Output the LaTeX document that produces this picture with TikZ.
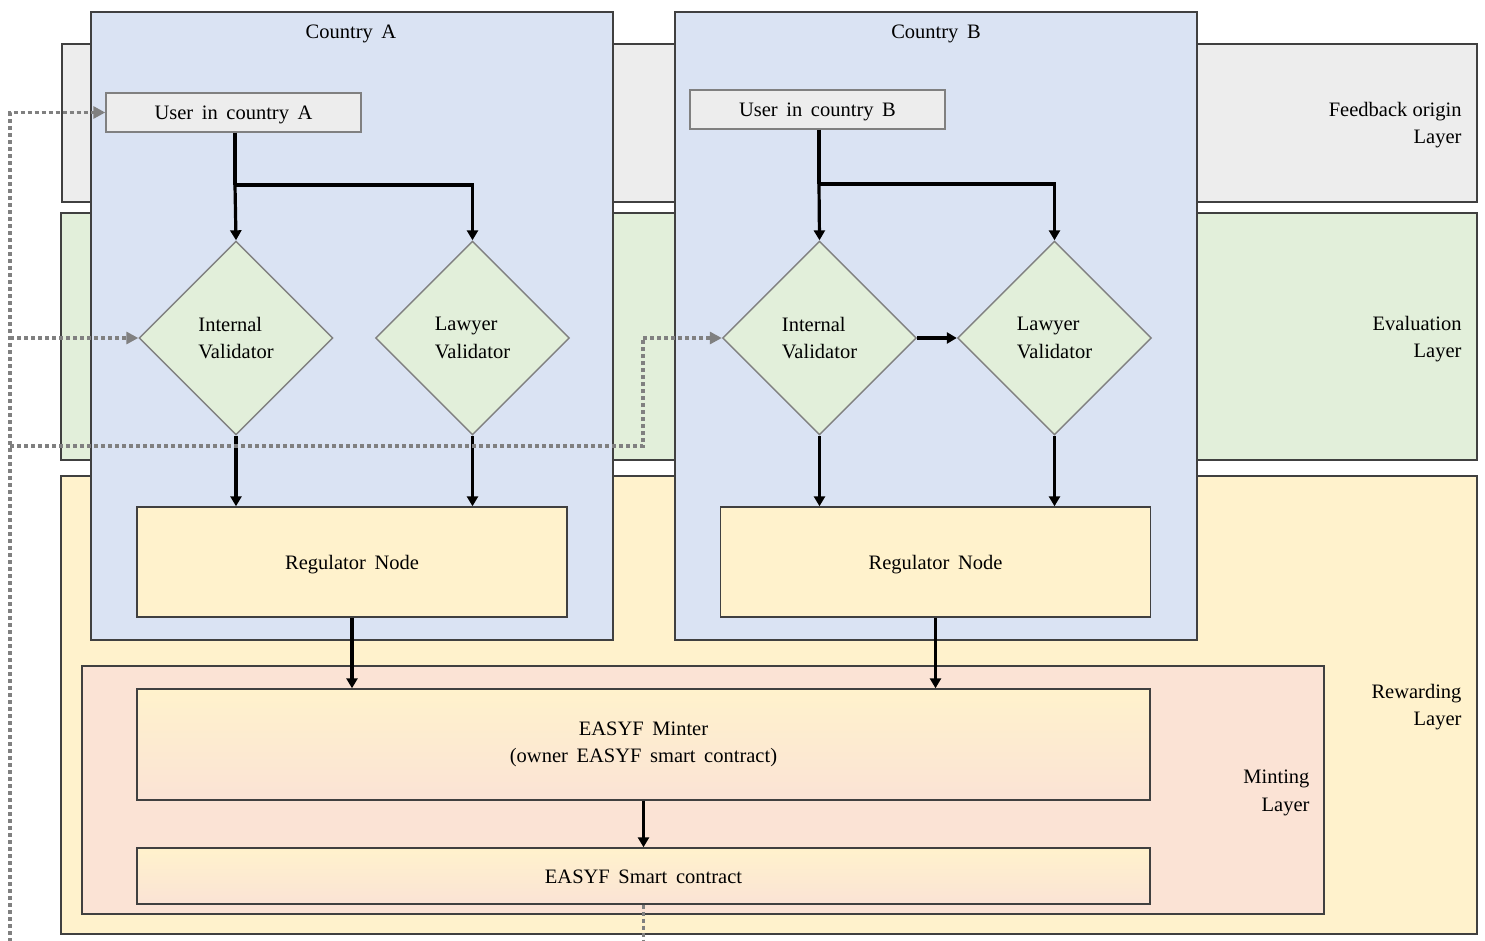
\documentclass[tikz,border=0pt]{standalone}
\usepackage{fontspec}
\setmainfont{Liberation Serif}
\usetikzlibrary{arrows.meta,shapes.geometric}
\definecolor{grayfill}{HTML}{EDEDED}
\definecolor{greenfill}{HTML}{E2EFDA}
\definecolor{yellowfill}{HTML}{FFF2CC}
\definecolor{bluefill}{HTML}{DAE3F3}
\definecolor{salmonfill}{HTML}{FBE3D5}
\definecolor{edge}{HTML}{404040}
\definecolor{fbgray}{HTML}{808080}
\newcommand\widespaces{\spaceskip=0.42em\relax}
\tikzset{
  box/.style={draw=edge, line width=1.4pt, rectangle, inner sep=0pt},
  txt/.style={font=\fontsize{20.5}{27.5}\selectfont, align=center, execute at begin node=\widespaces},
  low/.style={text height=17pt, text depth=3pt},
  lbl/.style={font=\fontsize{20.5}{27.5}\selectfont, align=right, anchor=east},
  dia/.style={diamond, draw=fbgray, line width=1.4pt, fill=greenfill, minimum width=194pt, minimum height=194pt, inner sep=0pt, font=\fontsize{20.5}{27.5}\selectfont, align=left},
  grad/.style={top color=yellowfill, bottom color=salmonfill},
  arr/.style={draw=black, line width=3.2pt, -{Triangle[width=11pt,length=10pt]}},
  fb/.style={draw=fbgray, line width=3.5pt, dash pattern=on 4pt off 3pt, -{Triangle[width=12pt,length=12pt]}},
  fbline/.style={draw=fbgray, line width=3.5pt, dash pattern=on 4pt off 3pt}
}
\begin{document}
\begin{tikzpicture}[x=1pt,y=-1pt]
\useasboundingbox (0,0) rectangle (1485,940);
\clip (0,0) rectangle (1485,940);
\fill[white] (0,0) rectangle (1485,940);
% layers
\node[box, fill=grayfill, minimum width=1415pt, minimum height=158pt] (layF) at (769.5,123) {};
\node[box, fill=greenfill, minimum width=1416pt, minimum height=247pt] (layE) at (769,336.5) {};
\node[box, fill=yellowfill, minimum width=1416pt, minimum height=458pt] (layR) at (769,705) {};
\node[lbl] (lblF) at (1465,125) {Feedback origin\\Layer};
\node[lbl] (lblE) at (1465,339) {Evaluation\\Layer};
\node[lbl] (lblR) at (1465,707) {Rewarding\\Layer};
% countries
\node[box, fill=bluefill, minimum width=522pt, minimum height=628pt] (cA) at (352,326) {};
\node[box, fill=bluefill, minimum width=522pt, minimum height=628pt] (cB) at (936,326) {};
\node[txt, low] (tA) at (351,31) {Country A};
\node[txt, low] (tB) at (936,31) {Country B};
% minting layer
\node[box, fill=salmonfill, minimum width=1242pt, minimum height=248pt] (mint) at (703,790) {};
\node[lbl] (lblM) at (1313,793) {Minting\\Layer};
% users
\node[box, draw=fbgray, fill=grayfill, minimum width=255pt, minimum height=39pt, txt, low] (uA) at (233.5,112.5) {User in country A};
\node[box, draw=fbgray, fill=grayfill, minimum width=255pt, minimum height=39pt, txt, low] (uB) at (817.5,109.5) {User in country B};
% diamonds
\node[dia] (iA) at (236,338) {Internal\\Validator};
\node[dia] (lA) at (472.5,338) {Lawyer\\Validator};
\node[dia] (iB) at (819.5,338) {Internal\\Validator};
\node[dia] (lB) at (1054.5,338) {Lawyer\\Validator};
% regulators
\node[box, fill=yellowfill, minimum width=430pt, minimum height=110pt, txt, low] (rA) at (352,562) {Regulator Node};
\node[box, fill=yellowfill, minimum width=430pt, minimum height=110pt, txt, low] (rB) at (935.5,562) {Regulator Node};
% minter and contract
\node[box, grad, minimum width=1013pt, minimum height=111pt, txt] (mn) at (643.5,744.5) {EASYF Minter\\(owner EASYF smart contract)};
\node[box, grad, minimum width=1013pt, minimum height=56pt, txt, low] (sc) at (643.5,876) {EASYF Smart contract};
% black arrows
\coordinate (brA) at (235,185);
\coordinate (brB) at (819,184);
\draw[line width=3.2pt] (uA.south -| brA) -- (brA);
\draw[arr] (brA) -- (iA.north);
\draw[arr] (brA) -| (lA.north);
\draw[line width=3.2pt] (uB.south -| brB) -- (brB);
\draw[arr] (brB) -- (iB.north);
\draw[arr] (brB) -| (lB.north);
\draw[arr] (iA.south) -- (iA.south |- rA.north);
\draw[arr] (lA.south) -- (lA.south |- rA.north);
\draw[arr] (iB.south) -- (iB.south |- rB.north);
\draw[arr] (lB.south) -- (lB.south |- rB.north);
\draw[arr] (iB.east) -- (lB.west);
\draw[arr] (rA.south) -- (rA.south |- mn.north);
\draw[arr] (rB.south) -- (rB.south |- mn.north);
\draw[arr] (mn.south) -- (sc.north);
% feedback dotted lines
\coordinate (fbBot) at (10,960);
\coordinate (fbE) at (10,338);
\coordinate (fbR) at (10,446);
\coordinate (fbK) at (643,338);
\draw[fb] (sc.south) |- (fbBot) |- (uA.west);
\draw[fb] (fbE) -- (iA.west);
\draw[fbline] (fbR) -| (fbK);
\draw[fb] (fbK) -- (iB.west);
\end{tikzpicture}
\end{document}
